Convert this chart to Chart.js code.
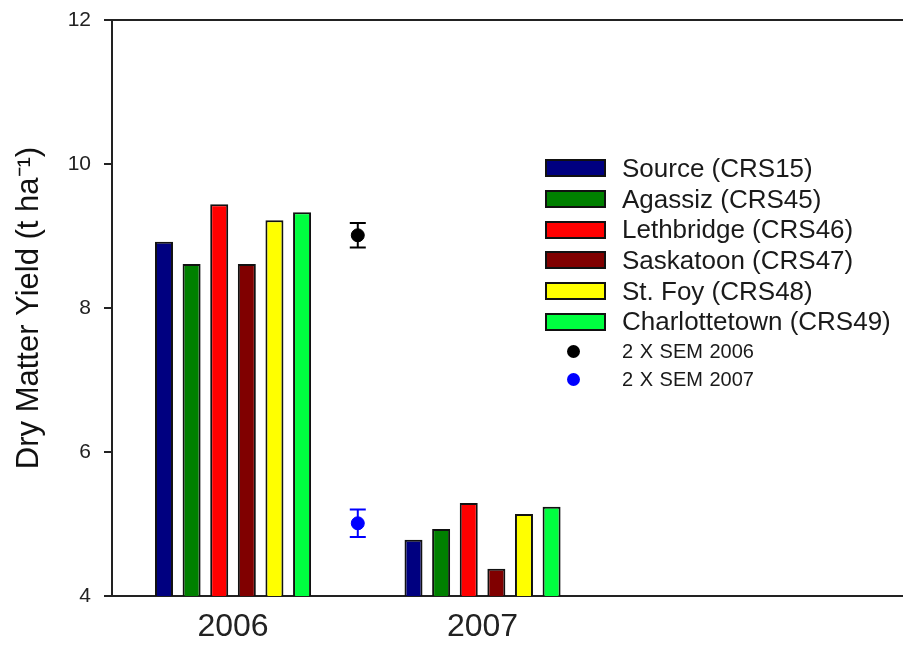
<!DOCTYPE html>
<html>
<head>
<meta charset="utf-8">
<script src="https://cdn.jsdelivr.net/npm/chart.js@4"></script>
<style>
  html, body { margin: 0; padding: 0; background: #fff; overflow: hidden; }
  #wrap { position: relative; width: 903px; height: 645px; }
  #legend { position: absolute; left: 545px; top: 153px; font-family: "Liberation Sans", Arial, sans-serif; color: #1a1a1a; }
  .row { display: flex; align-items: center; height: 30.7px; }
  .box { width: 57px; height: 14px; border: 2px solid #111; margin-right: 16px; }
  .lbl { font-size: 26px; white-space: nowrap; }
  .row.sem { height: 28px; }
  .dot { width: 13px; height: 13px; border-radius: 50%; margin-left: 22px; margin-right: 42px; }
  .row.sem .lbl { font-size: 20px; word-spacing: 1px; }
</style>
</head>
<body>
<div id="wrap">
  <canvas id="yieldChart" width="903" height="645"></canvas>
  <div id="legend"></div>
</div>
<script>
// data
const years = ['2006', '2007'];
const groupPos = [1, 2];
const locations = ['Source (CRS15)', 'Agassiz (CRS45)', 'Lethbridge (CRS46)', 'Saskatoon (CRS47)', 'St. Foy (CRS48)', 'Charlottetown (CRS49)'];
const source = [8.92, 4.78];
const agassiz = [8.61, 4.93];
const lethbridge = [9.44, 5.29];
const saskatoon = [8.61, 4.38];
const stFoy = [9.22, 5.14];
const charlottetown = [9.33, 5.24];
const barColors = ['#000080', '#008000', '#ff0000', '#800000', '#ffff00', '#00ff40'];

const semLabels = ['2 X SEM 2006', '2 X SEM 2007'];
const semPos = [1.5, 1.5];
const semMean = [9.01, 5.01];
const semErr = [0.17, 0.19];
const semColors = ['#000000', '#0000ff'];

const yTicks = [4, 6, 8, 10, 12];

Chart.defaults.font.family = '"Liberation Sans", Arial, sans-serif';

const series = [source, agassiz, lethbridge, saskatoon, stFoy, charlottetown];

const barSets = series.map(function(vals, k) {
  return {
    type: 'bar',
    label: locations[k],
    data: groupPos.map(function(x, i) { return {x: x, y: vals[i]}; }),
    backgroundColor: barColors[k],
    borderColor: '#111',
    borderWidth: 2,
    categoryPercentage: 0.664,
    barPercentage: 0.652,
  };
});

const semSets = semMean.map(function(m, i) {
  return {
    type: 'scatter',
    label: semLabels[i],
    data: [{x: semPos[i], y: m}],
    backgroundColor: semColors[i],
    borderColor: semColors[i],
    pointRadius: 6.5,
    pointHoverRadius: 6.5,
  };
});

const errorBars = {
  id: 'errorBars',
  beforeDatasetsDraw(chart) {
    const ctx = chart.ctx;
    const x = chart.scales.x;
    const y = chart.scales.y;
    ctx.save();
    ctx.lineWidth = 2;
    semMean.forEach(function(m, i) {
      const px = x.getPixelForValue(semPos[i]);
      const top = y.getPixelForValue(m + semErr[i]);
      const bot = y.getPixelForValue(m - semErr[i]);
      ctx.strokeStyle = semColors[i];
      ctx.beginPath();
      ctx.moveTo(px, top); ctx.lineTo(px, bot);
      ctx.moveTo(px - 8, top); ctx.lineTo(px + 8, top);
      ctx.moveTo(px - 8, bot); ctx.lineTo(px + 8, bot);
      ctx.stroke();
    });
    ctx.restore();
  }
};

// no extra room for overhanging labels, the axes sit where the figure has them
function noPad(s) {
  s.paddingLeft = 0; s.paddingRight = 0; s.paddingTop = 0; s.paddingBottom = 0;
}

const chart = new Chart(document.getElementById('yieldChart'), {
  type: 'bar',
  data: {
    datasets: barSets.concat(semSets)
  },
  options: {
    responsive: false,
    animation: false,
    devicePixelRatio: 1,
    layout: { padding: 0, autoPadding: false },
    scales: {
      x: {
        type: 'linear',
        min: 0.515,
        max: 3.685,
        offset: false,
        afterBuildTicks: function(s) { s.ticks = groupPos.map(function(v) { return {value: v}; }); },
        afterFit: function(s) { s.height = 49; noPad(s); },
        ticks: {
          autoSkip: false,
          maxRotation: 0,
          padding: 12,
          color: '#222',
          font: { size: 32 },
          callback: function(v) { return years[groupPos.indexOf(v)]; }
        },
        grid: { display: false, drawTicks: false },
        border: { display: true, color: '#222', width: 2 }
      },
      xTop: {
        type: 'linear',
        position: 'top',
        min: 0.515,
        max: 3.685,
        afterFit: function(s) { s.height = 20; noPad(s); },
        ticks: { display: false },
        grid: { display: false, drawTicks: false },
        border: { display: true, color: '#222', width: 2 }
      },
      y: {
        min: 4,
        max: 12,
        afterBuildTicks: function(s) { s.ticks = yTicks.map(function(v) { return {value: v}; }); },
        afterFit: function(s) { s.width = 112; noPad(s); },
        ticks: { padding: 13, color: '#222', font: { size: 21 } },
        grid: { drawOnChartArea: false, drawTicks: true, tickLength: 8, color: '#222', lineWidth: 2 },
        border: { display: true, color: '#222', width: 2 },
        title: {
          display: true,
          text: 'Dry Matter Yield (t ha\u207B\u00B9)',
          color: '#111',
          font: { size: 31 },
          padding: { top: 11, bottom: 0 }
        }
      }
    },
    plugins: {
      legend: { display: false },
      tooltip: { enabled: false }
    }
  },
  plugins: [errorBars]
});

// legend built from the chart's datasets
const legend = document.getElementById('legend');
chart.data.datasets.forEach(function(ds) {
  const row = document.createElement('div');
  const isSem = ds.type === 'scatter';
  row.className = isSem ? 'row sem' : 'row';
  const mark = document.createElement('div');
  mark.className = isSem ? 'dot' : 'box';
  mark.style.background = ds.backgroundColor;
  const lbl = document.createElement('span');
  lbl.className = 'lbl';
  lbl.textContent = ds.label;
  row.appendChild(mark);
  row.appendChild(lbl);
  legend.appendChild(row);
});
</script>
</body>
</html>
